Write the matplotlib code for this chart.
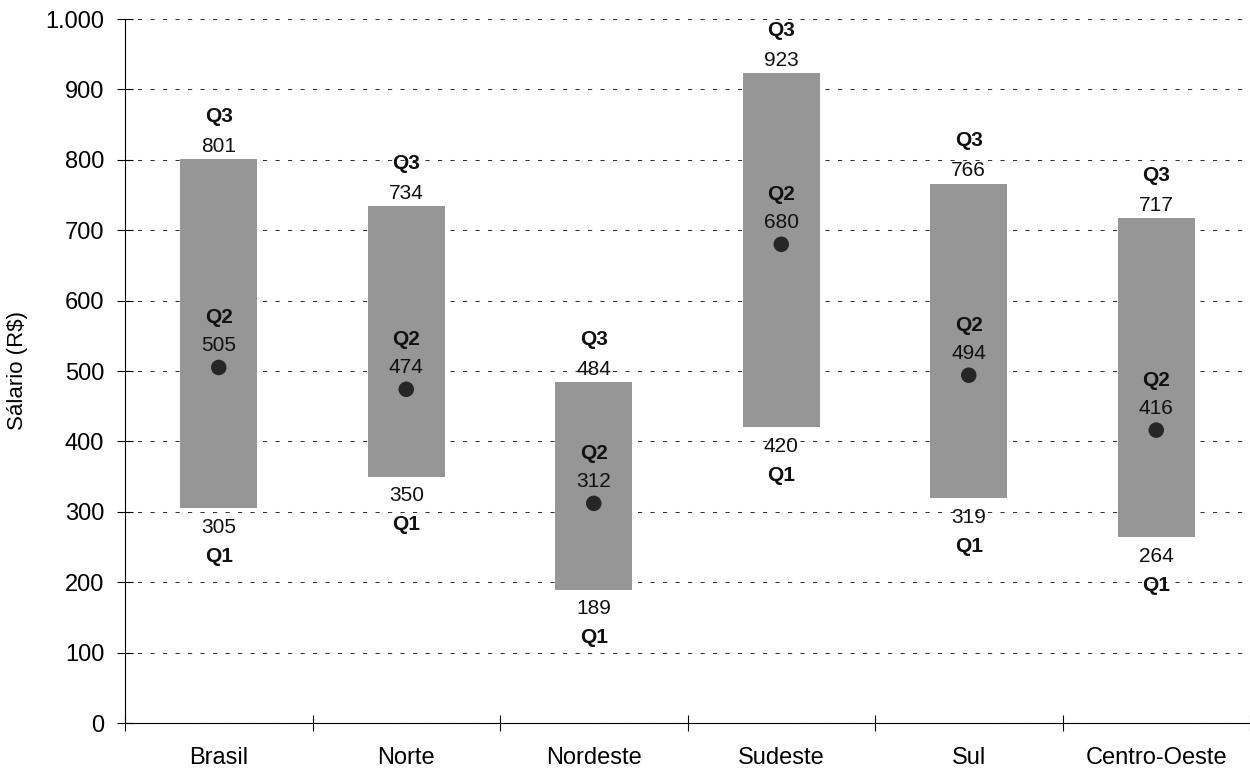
import matplotlib
matplotlib.use("Agg")
import matplotlib.pyplot as plt
from matplotlib.ticker import FuncFormatter, FixedLocator

plt.rcParams['font.family'] = ['Liberation Sans', 'DejaVu Sans']

regions = ["Brasil", "Norte", "Nordeste", "Sudeste", "Sul", "Centro-Oeste"]
q1 = [305, 350, 189, 420, 319, 264]
q2 = [505, 474, 312, 680, 494, 416]
q3 = [801, 734, 484, 923, 766, 717]
y_ticks = [0, 100, 200, 300, 400, 500, 600, 700, 800, 900, 1000]

W, H = 1250, 774
fig = plt.figure(figsize=(W / 100, H / 100), dpi=100)
ax = fig.add_axes([125 / W, (H - 723) / H, 1125 / W, 704 / H])

x = list(range(len(regions)))
ax.bar(x, [a - b for a, b in zip(q3, q1)], bottom=q1, width=0.41,
       color="#969696", zorder=2)
ax.scatter(x, q2, s=125, color="#262626", zorder=3, edgecolors="none")

px = 0.72  # points per pixel at 100 dpi
fs = 15
for i in x:
    ax.annotate(str(q3[i]), (i, q3[i]), xytext=(0, 13 * px), textcoords="offset points",
                ha="center", va="center", fontsize=fs, color="#111111")
    ax.annotate("Q3", (i, q3[i]), xytext=(0, 43 * px), textcoords="offset points",
                ha="center", va="center", fontsize=fs, fontweight="bold", color="#111111")
    ax.annotate(str(q2[i]), (i, q2[i]), xytext=(0, 22 * px), textcoords="offset points",
                ha="center", va="center", fontsize=fs, color="#111111")
    ax.annotate("Q2", (i, q2[i]), xytext=(0, 50 * px), textcoords="offset points",
                ha="center", va="center", fontsize=fs, fontweight="bold", color="#111111")
    ax.annotate(str(q1[i]), (i, q1[i]), xytext=(0, -19 * px), textcoords="offset points",
                ha="center", va="center", fontsize=fs, color="#111111")
    ax.annotate("Q1", (i, q1[i]), xytext=(0, -48 * px), textcoords="offset points",
                ha="center", va="center", fontsize=fs, fontweight="bold", color="#111111")

ax.set_xlim(-0.5, len(regions) - 0.5)
ax.set_ylim(0, 1000)
ax.set_yticks(y_ticks)
ax.yaxis.set_major_formatter(FuncFormatter(lambda v, p: f"{int(v):,}".replace(",", ".")))

ax.xaxis.set_major_locator(FixedLocator([i - 0.5 for i in range(len(regions) + 1)]))
ax.xaxis.set_minor_locator(FixedLocator(x))
ax.set_xticklabels([], minor=False)
ax.set_xticklabels(regions, minor=True)
ax.tick_params(axis="x", which="major", direction="inout", length=12, width=0.8, labelbottom=False)
ax.tick_params(axis="x", which="minor", length=0, pad=17, labelsize=17)
ax.tick_params(axis="y", direction="inout", length=12, width=0.8, pad=9, labelsize=17)

ax.yaxis.grid(True, color="#333333", linewidth=0.75, dashes=(4, 8), zorder=0)
ax.set_axisbelow(True)
for s in ["top", "right"]:
    ax.spines[s].set_visible(False)
for s in ["left", "bottom"]:
    ax.spines[s].set_linewidth(0.8)
    ax.spines[s].set_zorder(4)

fig.text(18 / W, 1 - 370 / H, "Sálario (R$)", rotation=90, ha="center", va="center", fontsize=16)

fig.savefig("out.png", dpi=100)
